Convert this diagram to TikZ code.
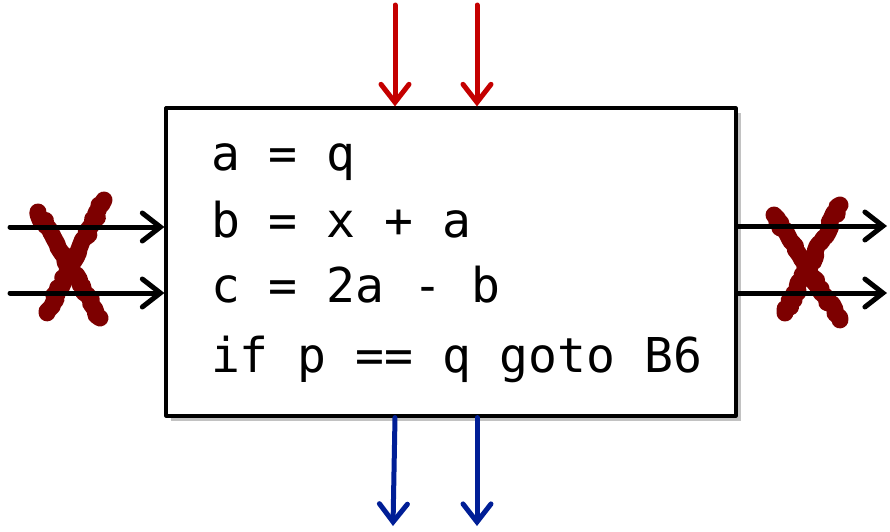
\documentclass[tikz,border=0pt]{standalone}
\usepackage{fontspec}
\setmonofont{DejaVu Sans Mono}
\usetikzlibrary{arrows.meta,shadows,decorations.pathmorphing}
\definecolor{BlockInk}{gray}{0}
\definecolor{FlowIn}{RGB}{196,0,0}
\definecolor{FlowOut}{RGB}{0,30,150}
\definecolor{KillMark}{RGB}{125,0,0}
\tikzset{
    block/diagram/.style={
        x=0.5pt, y=-0.5pt,
        line cap=round,
        line join=round
    },
    block/box/.style={
        draw=BlockInk, fill=white, line width=1.6pt,
        minimum width=285pt, minimum height=154pt, inner sep=0pt,
        drop shadow={shadow xshift=2.4pt, shadow yshift=-2.4pt,
                     opacity=0.4, fill=black!60}
    },
    block/code/.style={
        anchor=base west, inner sep=0pt, outer sep=0pt,
        font=\ttfamily\fontsize{24}{24}\selectfont
    },
    block/edge/.style={
        draw=BlockInk, line width=2.5pt,
        -{Straight Barb[length=9pt, width=14pt, line cap=round]}
    },
    block/gen/.style={block/edge, draw=FlowIn},
    block/kill/.style={block/edge, draw=FlowOut},
    block/cross/.style={
        draw=KillMark, line width=8.5pt,
        decorate, decoration={random steps, segment length=2pt, amplitude=1.1pt}
    }
}

\begin{document}
\begin{tikzpicture}[block/diagram]
    \useasboundingbox (0,0) rectangle (890,531);

    % The basic block.
    \node[block/box] (block) at (451,262) {};
    \node[block/code] (l1) at (211,170) {a = q};
    \node[block/code] (l2) at (211,237) {b = x + a};
    \node[block/code] (l3) at (211,302) {c = 2a - b};
    \node[block/code] (l4) at (211,372) {if p == q goto B6};

    % Crossed-out flow on both sides.
    \draw[block/cross] (38,212) -- (100,318);
    \draw[block/cross] (104,200) -- (47,313);
    \draw[block/cross] (774,215) -- (840,320);
    \draw[block/cross] (840,205) -- (785,313);

    \coordinate (in1) at (10,227);
    \coordinate (in2) at (10,293);
    \coordinate (out1) at (887,226);
    \coordinate (out2) at (887,293);
    \draw[block/edge] (in1) -- (in1 -| block.west);
    \draw[block/edge] (in2) -- (in2 -| block.west);
    \draw[block/edge] (out1 -| block.east) -- (out1);
    \draw[block/edge] (out2 -| block.east) -- (out2);

    % Top and bottom.
    \coordinate (gen1) at (395,5);
    \coordinate (gen2) at (477,5);
    \coordinate (kill1) at (393,526);
    \coordinate (kill2) at (477,526);
    \draw[block/gen] (gen1) -- (gen1 |- block.north);
    \draw[block/gen] (gen2) -- (gen2 |- block.north);
    \draw[block/kill] (block.south -| 395,0) -- (kill1);
    \draw[block/kill] (kill2 |- block.south) -- (kill2);
\end{tikzpicture}
\end{document}
